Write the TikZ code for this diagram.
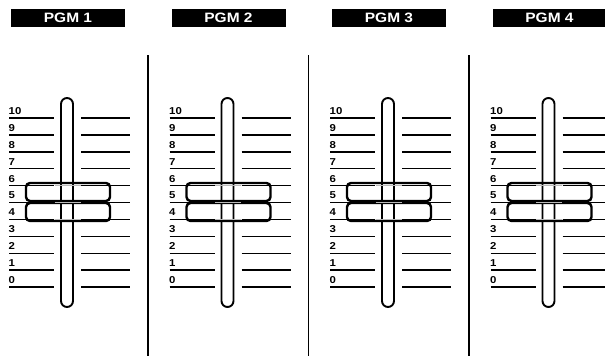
\documentclass[tikz,border=0pt]{standalone}
\usepackage{fontspec}
\setmainfont{Liberation Sans}
\newfontfamily\widefont[FakeStretch=1.14]{Liberation Sans}
\tikzset{
pgmbar/.style={fill=black, text=white, minimum width=114pt, minimum height=18pt, inner sep=0pt, font=\widefont\bfseries\fontsize{13.6}{13.6}\selectfont},
tickline/.style={line width=1.4pt},
ticklabel/.style={anchor=base west, inner sep=0pt, font=\widefont\bfseries\fontsize{10}{10}\selectfont},
slotline/.style={line width=1.9pt},
knobline/.style={line width=2.4pt, rounded corners=4pt},
}
\begin{document}
\begin{tikzpicture}[x=1pt, y=-1pt]
\useasboundingbox (0,0) rectangle (605,356);
%separators
\foreach \s in {148,308.5,469}
\draw[line width=1.6pt] (\s,55) -- (\s,356);
%faders
\foreach \c in {1,...,4}{
\begin{scope}[xshift={(\c-1)*160.5}]
\node[pgmbar] (pgm\c) at (68,18) {PGM \c};
%scale
\foreach \k in {0,...,10}{
\pgfmathsetmacro\ty{118+(10-\k)*16.9}
\draw[tickline] (9,\ty) -- (54,\ty);
\draw[tickline] (81,\ty) -- (130,\ty);
\node[ticklabel] (num\c-\k) at (8.5,\ty-3.6) {\k};
}
%slot
\draw[slotline] (61,301) -- (61,104) arc (180:360:6) -- (73,301) arc (0:180:6) -- cycle;
%knob
\draw[knobline] (26,183) rectangle (110,201);
\draw[knobline] (26,203) rectangle (110,221);
\foreach \k in {4,5,6}
\draw[gray!55, line width=0.9pt] (54.5,118+10*16.9-\k*16.9) -- (80.5,118+10*16.9-\k*16.9);
\end{scope}}
\end{tikzpicture}
\end{document}
